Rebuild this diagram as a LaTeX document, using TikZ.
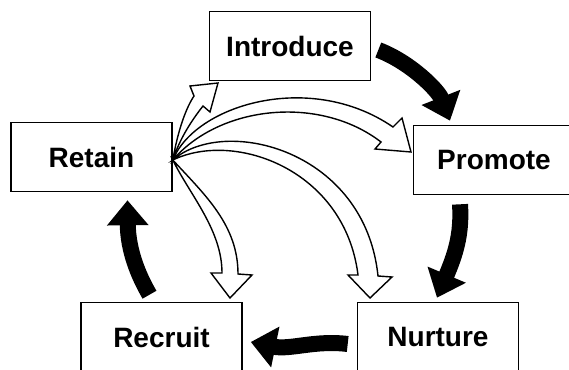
\documentclass[tikz,border=0pt]{standalone}
\usepackage{fontspec}
\setmainfont{Liberation Sans}
\usetikzlibrary{arrows.meta}

\begin{document}
\begin{tikzpicture}[>={Triangle[length=25pt,width=40pt]}, x=1pt, y=-1pt,
    stage/.style={draw, line width=1.6pt, minimum width=161pt, minimum height=69pt,
      inner sep=0pt, font=\bfseries\fontsize{28}{30}\selectfont},
    hollow/.style={draw, line width=1.4pt, line join=miter},
    solid/.style={->, line width=16pt}]
  \useasboundingbox (0,0) rectangle (569,369);

  \node[stage] (Introduce) at (290,46) {Introduce};
  \node[stage] (Retain) at (91.5,157) {Retain};
  \node[stage] (Promote) at (494,160) {Promote};
  \node[stage] (Recruit) at (161.5,337) {Recruit};
  \node[stage] (Nurture) at (438,337) {Nurture};

  % the cycle
  \draw[solid] ([shift={(7,4)}]Introduce.east) .. controls (410,62) and (438,90) .. ([shift={(-44,-4)}]Promote.north);
  \draw[solid] ([shift={(-34,9)}]Promote.south) .. controls (462,235) and (455,255) .. ([shift={(-1,-4)}]Nurture.north);
  \draw[solid] ([shift={(-9,7)}]Nurture.west) .. controls (315,340) and (290,350) .. ([shift={(8,5)}]Recruit.east);
  \draw[solid] ([shift={(-12,-7)}]Recruit.north) .. controls (138,275) and (128,250) .. ([shift={(36,8)}]Retain.south);

  % feedback from Retain
  \coordinate (hub) at ([shift={(0,3)}]Retain.east);
  \draw[hollow] (hub) .. controls (178,130) and (186,108) .. (194,96) -- (190,86) -- (218,83) -- (210,112) -- (203,106) .. controls (192,120) and (180,138) .. (hub) -- cycle;
  \draw[hollow] (hub) .. controls (195,105) and (310,70) .. (393,127) -- (402,118) -- (411,152) -- (375,149) -- (381,142) .. controls (320,95) and (220,105) .. (hub) -- cycle;
  \draw[hollow] (hub) .. controls (225,115) and (365,150) .. (378,276) -- (392,277) -- (370,298) -- (348,275) -- (358,275) .. controls (345,170) and (235,130) .. (hub) -- cycle;
  \draw[hollow] (hub) .. controls (205,195) and (238,225) .. (238,274) -- (252,275) -- (230,298) -- (211,273) -- (222,273) .. controls (222,230) and (190,195) .. (hub) -- cycle;
\end{tikzpicture}
\end{document}
